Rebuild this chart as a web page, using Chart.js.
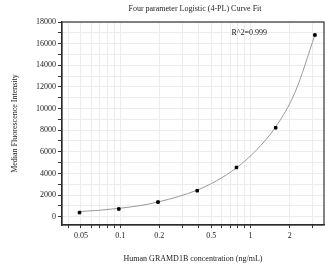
<!DOCTYPE html>
<html>
<head>
<meta charset="utf-8">
<script src="https://cdn.jsdelivr.net/npm/chart.js@4/dist/chart.umd.min.js"></script>
<style>
  html, body { margin: 0; padding: 0; background: #fff; }
  #wrap { width: 329px; height: 268px; }
</style>
</head>
<body>
<div id="wrap"><canvas id="chart" width="329" height="268"></canvas></div>
<script>
// standards (2-fold dilution) and measured MFI
const conc = [0.0488, 0.0977, 0.1953, 0.3906, 0.7813, 1.5625, 3.125];
const mfi = [380, 710, 1350, 2400, 4550, 8220, 16800];

// fitted curve
const fitX = [0.0488, 0.07, 0.0977, 0.14, 0.1953, 0.28, 0.3906, 0.55, 0.7813, 1.1, 1.5625, 2.2, 3.125];
const fitY = [470, 600, 770, 1010, 1360, 1860, 2460, 3320, 4520, 6100, 8300, 11500, 16800];

const xGrid = [0.04, 0.05, 0.06, 0.07, 0.08, 0.09, 0.1, 0.2, 0.3, 0.4, 0.5, 0.6, 0.7, 0.8, 0.9, 1, 2, 3];
const xLabels = ['0.05', '0.1', '0.2', '0.5', '1', '2'];
const yGrid = [0, 1000, 2000, 3000, 4000, 5000, 6000, 7000, 8000, 9000, 10000, 11000, 12000, 13000, 14000, 15000, 16000, 17000, 18000];
const yLabels = ['0', '2000', '4000', '6000', '8000', '10000', '12000', '14000', '16000', '18000'];

const TITLE = 'Four parameter Logistic (4-PL) Curve Fit';
const R2 = 'R^2=0.999';
const FONT = "'Liberation Serif', 'Times New Roman', serif";

const extras = {
  id: 'extras',
  afterDraw(chart) {
    const { ctx, chartArea: a, scales } = chart;
    ctx.save();
    // frame
    ctx.strokeStyle = '#333';
    ctx.lineWidth = 1.2;
    ctx.strokeRect(a.left, a.top, a.right - a.left, a.bottom - a.top);
    // title
    ctx.fillStyle = '#222';
    ctx.font = '8px ' + FONT;
    ctx.textAlign = 'center';
    ctx.textBaseline = 'middle';
    ctx.fillText(TITLE, (a.left + a.right) / 2 + 2, 9);
    // r squared
    ctx.textAlign = 'left';
    ctx.fillText(R2, scales.x.getPixelForValue(0.715), scales.y.getPixelForValue(16950));
    ctx.restore();
  }
};

new Chart(document.getElementById('chart'), {
  data: {
    datasets: [{
      type: 'line',
      data: fitX.map((x, i) => ({ x, y: fitY[i] })),
      borderColor: '#9a9a9a',
      borderWidth: 1,
      pointRadius: 0,
      cubicInterpolationMode: 'monotone',
      fill: false,
      order: 2
    }, {
      type: 'scatter',
      data: conc.map((x, i) => ({ x, y: mfi[i] })),
      backgroundColor: '#000',
      borderColor: '#000',
      pointRadius: 1.8,
      pointStyle: 'rect',
      order: 1
    }]
  },
  options: {
    responsive: false,
    animation: false,
    layout: { padding: { top: 22, right: 1, left: 0, bottom: 0 } },
    plugins: { legend: { display: false }, tooltip: { enabled: false } },
    scales: {
      x: {
        type: 'logarithmic',
        min: 0.0358,
        max: 3.67,
        afterBuildTicks: s => { s.ticks = xGrid.map(v => ({ value: v })); },
        afterFit: s => { s.height = 43; },
        border: { color: '#222', width: 1.2 },
        grid: { color: '#ececec', tickColor: '#333', tickLength: 3 },
        ticks: {
          autoSkip: false,
          maxRotation: 0,
          padding: 3,
          color: '#222',
          font: { family: FONT, size: 8 },
          callback: v => { const t = String(+v.toFixed(3)); return xLabels.includes(t) ? t : ''; }
        },
        title: {
          display: true,
          text: 'Human GRAMD1B concentration (ng/mL)',
          color: '#222',
          font: { family: FONT, size: 8 },
          padding: { top: 11 }
        }
      },
      y: {
        min: -770,
        max: 18000,
        afterBuildTicks: s => { s.ticks = yGrid.map(v => ({ value: v })); },
        afterFit: s => { s.width = 62; },
        border: { color: '#222', width: 1.2 },
        grid: { color: '#ececec', tickColor: '#333', tickLength: 4 },
        ticks: {
          autoSkip: false,
          padding: 2,
          color: '#222',
          font: { family: FONT, size: 8 },
          callback: v => { const t = String(Math.round(v)); return yLabels.includes(t) ? t : ''; }
        },
        title: {
          display: true,
          text: 'Median Fluorescence Intensity',
          color: '#222',
          font: { family: FONT, size: 8 },
          padding: { top: 10, bottom: 4 }
        }
      }
    }
  },
  plugins: [extras]
});
</script>
</body>
</html>
